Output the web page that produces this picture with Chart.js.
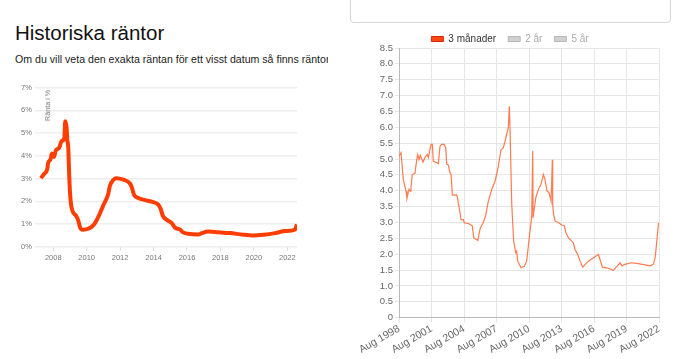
<!DOCTYPE html>
<html>
<head>
<meta charset="utf-8">
<script src="https://cdn.jsdelivr.net/npm/chart.js@4/dist/chart.umd.min.js"></script>
<style>
  body { margin: 0; background: #fff; width: 690px; height: 359px; overflow: hidden; position: relative; font-family: "Liberation Sans", Arial, sans-serif; }
  h1 { position: absolute; left: 15px; top: 21px; margin: 0; font-size: 20.5px; font-weight: 400; color: #111; }
  .lead { position: absolute; left: 15px; top: 53px; width: 313px; white-space: nowrap; overflow: hidden; font-size: 10.6px; color: #222; }
  .box { position: absolute; left: 350px; top: -20px; width: 319px; height: 41px; border: 1px solid #d6d6d6; border-radius: 4px; }
  .ytitle { position: absolute; left: 32px; top: 101px; font-size: 7.2px; color: #777; transform: rotate(-90deg); white-space: nowrap; }
  #left { position: absolute; left: 0; top: 80px; width: 300px; height: 190px; }
  #right { position: absolute; left: 350px; top: 22px; width: 320px; height: 337px; }
</style>
</head>
<body>
<h1>Historiska räntor</h1>
<div class="lead">Om du vill veta den exakta räntan för ett visst datum så finns räntor</div>
<div class="box"></div>
<div id="left"><canvas id="histChart"></canvas></div>
<div class="ytitle">Ränta i %</div>
<div id="right"><canvas id="rateChart"></canvas></div>
<script>
// Left chart: historisk ränta (decimal years)
var histYears = [2007.26, 2007.44, 2007.64, 2007.70, 2007.84, 2007.92, 2008.04, 2008.16, 2008.36, 2008.50,
  2008.66, 2008.72, 2008.80, 2008.84, 2008.90, 2008.96, 2009.04, 2009.16, 2009.36, 2009.50,
  2009.60, 2009.76, 2010.10, 2010.44, 2010.69, 2010.99, 2011.29, 2011.39, 2011.59, 2011.79,
  2012.19, 2012.59, 2012.69, 2012.83, 2013.09, 2013.49, 2013.89, 2014.28, 2014.43, 2014.55,
  2014.79, 2015.09, 2015.28, 2015.58, 2015.74, 2016.08, 2016.68, 2016.88, 2017.28, 2017.87,
  2018.57, 2019.37, 2019.97, 2020.57, 2021.27, 2021.87, 2022.47, 2022.57];
var histRates = [3.02, 3.20, 3.41, 3.70, 3.85, 4.10, 3.95, 4.24, 4.36, 4.65,
  4.76, 5.52, 5.23, 4.72, 4.36, 3.05, 2.03, 1.57, 1.38, 1.16,
  0.87, 0.76, 0.80, 0.99, 1.31, 1.82, 2.33, 2.69, 2.94, 3.02,
  2.96, 2.79, 2.64, 2.30, 2.15, 2.06, 1.99, 1.86, 1.67, 1.38,
  1.19, 1.05, 0.85, 0.77, 0.65, 0.58, 0.55, 0.61, 0.68, 0.65,
  0.61, 0.54, 0.51, 0.54, 0.61, 0.70, 0.77, 0.99];
var histTickYears = [2008, 2010, 2012, 2014, 2016, 2018, 2020, 2022];

// Right chart: 3 månader
var rateYears = [1998.58, 1998.77, 1998.98, 1999.23, 1999.32, 1999.51, 1999.63, 1999.69, 1999.81, 2000.06,
  2000.22, 2000.31, 2000.43, 2000.55, 2000.80, 2000.98, 2001.20, 2001.29, 2001.54, 2001.66,
  2001.75, 2002.09, 2002.21, 2002.37, 2002.53, 2002.74, 2002.90, 2002.99, 2003.14, 2003.29,
  2003.39, 2003.51, 2003.91, 2004.00, 2004.06, 2004.12, 2004.31, 2004.52, 2004.61, 2005.05,
  2005.35, 2005.48, 2005.85, 2006.09, 2006.37, 2006.59, 2006.83, 2007.14, 2007.45, 2007.75,
  2008.00, 2008.21, 2008.37, 2008.55, 2008.67, 2008.77, 2008.83, 2008.99, 2009.17, 2009.36,
  2009.45, 2009.54, 2009.85, 2010.15, 2010.37, 2010.52, 2010.71, 2010.83, 2010.93, 2010.96,
  2011.08, 2011.21, 2011.36, 2011.51, 2011.69, 2011.91, 2012.06, 2012.25, 2012.43, 2012.62,
  2012.74, 2012.77, 2012.83, 2012.99, 2013.29, 2013.61, 2013.85, 2013.98, 2014.22, 2014.53,
  2014.68, 2014.83, 2015.08, 2015.30, 2015.54, 2016.06, 2016.99, 2017.36, 2017.76, 2018.37,
  2018.99, 2019.15, 2019.45, 2020.00, 2020.68, 2021.30, 2021.76, 2022.07, 2022.23, 2022.38, 2022.54];
var rate3m = [5.09, 5.20, 4.35, 3.99, 3.76, 4.05, 3.99, 4.10, 4.51, 4.55,
  4.98, 5.14, 4.98, 5.12, 4.90, 5.05, 5.14, 5.05, 5.46, 5.46,
  4.93, 4.88, 4.85, 5.40, 5.46, 5.46, 5.35, 4.83, 4.81, 4.57,
  4.52, 3.86, 3.87, 3.76, 3.56, 3.51, 3.09, 3.09, 2.99, 2.96,
  2.89, 2.52, 2.43, 2.83, 3.00, 3.23, 3.67, 4.04, 4.30, 4.77,
  5.30, 5.35, 5.56, 5.82, 5.98, 6.66, 5.98, 3.57, 2.41, 2.05,
  2.10, 1.78, 1.57, 1.62, 1.78, 2.25, 2.83, 3.15, 5.25, 3.15,
  3.46, 3.78, 3.94, 4.09, 4.20, 4.51, 4.35, 3.99, 3.94, 3.67,
  4.98, 3.57, 3.31, 3.04, 3.00, 2.92, 2.89, 2.68, 2.52, 2.41,
  2.36, 2.15, 1.99, 1.78, 1.59, 1.78, 1.99, 1.59, 1.57, 1.49,
  1.73, 1.63, 1.68, 1.73, 1.70, 1.66, 1.63, 1.68, 1.89, 2.41, 2.99];
var rateTickYears = [1998, 2001, 2004, 2007, 2010, 2013, 2016, 2019, 2022];
var rateTickLabels = rateTickYears.map(function (y) { return "Aug " + y; });
var seriesNames = ["3 månader", "2 år", "5 år"];

function pts(xs, ys) {
  return xs.map(function (x, i) { return { x: x, y: ys[i] }; });
}

var ctx = document.getElementById("histChart");
var histChart = new Chart(ctx, {
  type: "line",
  data: {
    datasets: [
      {
        label: "Ränta",
        data: pts(histYears, histRates),
        borderColor: "rgb(255, 61, 0)",
        borderWidth: 4,
        cubicInterpolationMode: "monotone",
        pointRadius: 0,
      },
    ],
  },
  options: {
    responsive: true,
    maintainAspectRatio: false,
    animation: false,
    layout: { padding: { left: 18, right: 3, top: 4, bottom: 6 } },
    plugins: { legend: { display: false }, tooltip: { enabled: false } },
    scales: {
      x: {
        type: "linear",
        min: 2006.9,
        max: 2022.58,
        afterBuildTicks: function (axis) {
          axis.ticks = histTickYears.map(function (v) { return { value: v }; });
        },
        grid: { drawOnChartArea: false, tickLength: 4, color: "#ddd" },
        border: { display: false },
        ticks: {
          autoSkip: false,
          maxRotation: 0,
          padding: 2,
          color: "#777",
          font: { size: 7.5 },
          callback: function (v) { return String(v); },
        },
      },
      y: {
        min: 0,
        max: 7,
        grid: { color: "#eeeeee", lineWidth: 1.5, drawTicks: false },
        border: { display: false },
        ticks: {
          stepSize: 1,
          padding: 3,
          color: "#777",
          font: { size: 7.5 },
          callback: function (v) { return v + "%"; },
        },
      },
    },
  },
});

var ctx2 = document.getElementById("rateChart");
var rateChart = new Chart(ctx2, {
  type: "line",
  data: {
    datasets: [
      {
        label: seriesNames[0],
        data: pts(rateYears, rate3m),
        borderColor: "rgba(255, 100, 50, 0.85)",
        backgroundColor: "rgb(255, 70, 20)",
        borderWidth: 1.2,
        pointRadius: 0,
        tension: 0,
      },
      { label: seriesNames[1], data: [], borderColor: "#bdbdbd", backgroundColor: "#d0d0d0" },
      { label: seriesNames[2], data: [], borderColor: "#bdbdbd", backgroundColor: "#d0d0d0" },
    ],
  },
  options: {
    responsive: true,
    maintainAspectRatio: false,
    animation: false,
    layout: { padding: { left: 11, right: 11, top: 0, bottom: 3 } },
    plugins: {
      tooltip: { enabled: false },
      legend: {
        maxHeight: 26,
        labels: {
          boxWidth: 12,
          boxHeight: 5,
          padding: 12,
          font: { size: 10, lineHeight: 1 },
          generateLabels: function (chart) {
            var items = Chart.defaults.plugins.legend.labels.generateLabels(chart);
            items.forEach(function (it, i) {
              it.fontColor = i === 0 ? "#333" : "#aaa";
              it.strokeStyle = i === 0 ? "rgb(210, 40, 0)" : "#b8b8b8";
              it.lineWidth = 1;
            });
            return items;
          },
        },
      },
    },
    scales: {
      x: {
        type: "linear",
        min: 1998 + 7 / 12,
        max: 2022 + 7 / 12,
        afterBuildTicks: function (axis) {
          axis.ticks = rateTickYears.map(function (y) { return { value: y + 7 / 12 }; });
        },
        grid: { color: "#e6e6e6", tickLength: 5 },
        border: { color: "#bbb" },
        ticks: {
          autoSkip: false,
          minRotation: 30,
          maxRotation: 30,
          padding: 0,
          color: "#666",
          font: { size: 10.5 },
          callback: function (v, i) { return rateTickLabels[i]; },
        },
      },
      y: {
        min: 0,
        max: 8.5,
        afterFit: function (scale) { scale.width = 38; },
        grid: { color: "#e6e6e6", tickLength: 4 },
        border: { color: "#bbb" },
        ticks: {
          stepSize: 0.5,
          padding: 2,
          color: "#666",
          font: { size: 9.5 },
          callback: function (v) { return v === 0 ? "0" : v.toFixed(1); },
        },
      },
    },
  },
});
</script>
</body>
</html>
